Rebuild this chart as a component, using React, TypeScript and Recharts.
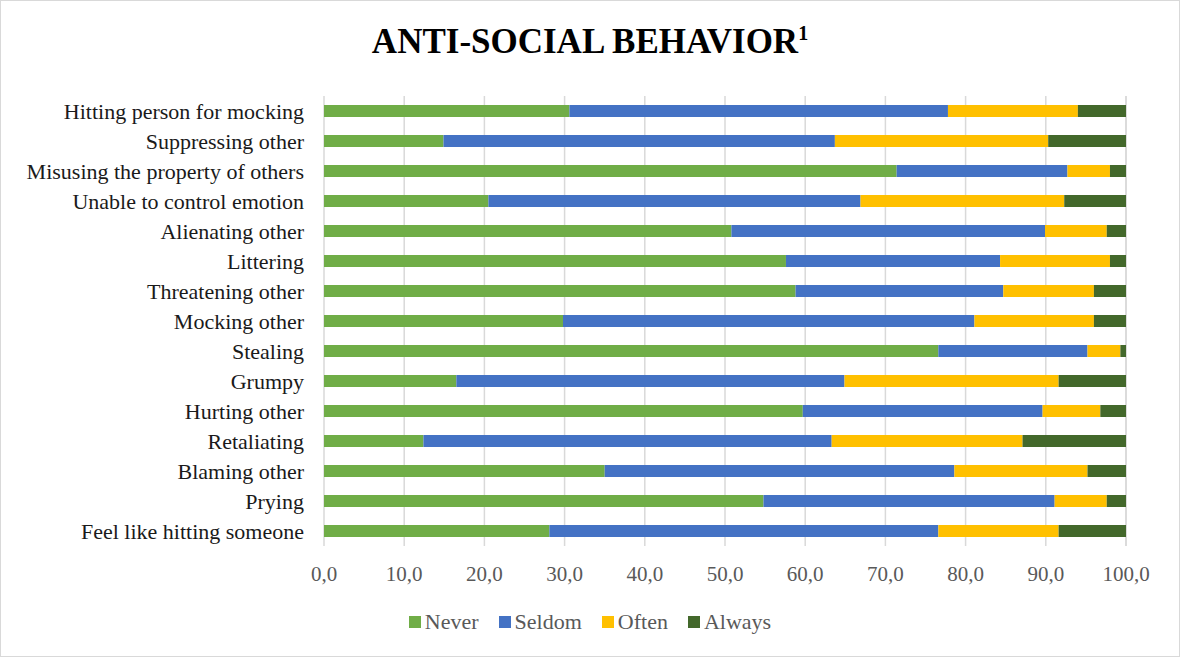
import React from 'react';
import { BarChart, Bar, XAxis, YAxis, CartesianGrid } from 'recharts';

const behaviors = [
  'Hitting person for mocking',
  'Suppressing other',
  'Misusing the property of others',
  'Unable to control emotion',
  'Alienating other',
  'Littering',
  'Threatening other',
  'Mocking other',
  'Stealing',
  'Grumpy',
  'Hurting other',
  'Retaliating',
  'Blaming other',
  'Prying',
  'Feel like hitting someone',
];

const never = [30.6, 14.9, 71.4, 20.5, 50.8, 57.6, 58.8, 29.8, 76.6, 16.5, 59.7, 12.4, 35.0, 54.8, 28.1];
const seldom = [47.2, 48.8, 21.3, 46.4, 39.1, 26.7, 25.9, 51.3, 18.6, 48.4, 29.9, 50.9, 43.6, 36.3, 48.5];
const often = [16.2, 26.6, 5.3, 25.4, 7.7, 13.7, 11.3, 14.9, 4.1, 26.7, 7.2, 23.8, 16.6, 6.5, 15.0];
const always = [6.0, 9.7, 2.0, 7.7, 2.4, 2.0, 4.0, 4.0, 0.7, 8.4, 3.2, 12.9, 4.8, 2.4, 8.4];

const xTicks = [0, 10, 20, 30, 40, 50, 60, 70, 80, 90, 100];

const seriesInfo = [
  { key: 'never', name: 'Never', color: '#70AD47' },
  { key: 'seldom', name: 'Seldom', color: '#4472C4' },
  { key: 'often', name: 'Often', color: '#FFC000' },
  { key: 'always', name: 'Always', color: '#43682B' },
];

const data = behaviors.map((name, i) => ({
  name,
  never: never[i],
  seldom: seldom[i],
  often: often[i],
  always: always[i],
}));

const FONT = '"Liberation Serif", "Times New Roman", serif';

// legend drawn by hand so spacing matches the Excel look
function LegendRow() {
  return (
    <div
      style={{
        position: 'absolute',
        top: 607,
        left: 0,
        width: '100%',
        display: 'flex',
        justifyContent: 'center',
        gap: 20,
        fontFamily: FONT,
        fontSize: 22,
        color: '#595959',
        lineHeight: '28px',
      }}
    >
      {seriesInfo.map((s) => (
        <div key={s.key} style={{ display: 'flex', alignItems: 'center' }}>
          <span style={{ display: 'inline-block', width: 12, height: 12, background: s.color, marginRight: 4 }} />
          <span>{s.name}</span>
        </div>
      ))}
    </div>
  );
}

export default function App() {
  return (
    <div
      style={{
        position: 'absolute',
        left: 0,
        top: 0,
        width: 1180,
        height: 657,
        boxSizing: 'border-box',
        border: '1px solid #D9D9D9',
        background: '#fff',
      }}
    >
      <div
        style={{
          position: 'absolute',
          top: 21,
          left: 0,
          width: '100%',
          textAlign: 'center',
          fontFamily: FONT,
          fontWeight: 'bold',
          fontSize: 35,
          color: '#000',
        }}
      >
        ANTI-SOCIAL BEHAVIOR<sup style={{ fontSize: 20 }}>1</sup>
      </div>
      <BarChart
        width={1178}
        height={655}
        data={data}
        layout="vertical"
        barCategoryGap="30%"
        margin={{ top: 95, right: 53, left: 0, bottom: 0 }}
        style={{ position: 'absolute', left: 0, top: 0 }}
      >
        <CartesianGrid horizontal={false} stroke="#D9D9D9" strokeWidth={1.5} />
        <XAxis
          type="number"
          domain={[0, 100]}
          ticks={xTicks}
          axisLine={false}
          tickLine={false}
          tickMargin={14}
          height={110}
          tick={{ fontSize: 21, fill: '#595959', fontFamily: FONT }}
          tickFormatter={(v) => v.toFixed(1).replace('.', ',')}
        />
        <YAxis
          type="category"
          dataKey="name"
          width={323}
          axisLine={false}
          tickLine={false}
          tickMargin={14}
          interval={0}
          tick={{ fontSize: 22, fill: '#1A1A1A', fontFamily: FONT }}
        />
        {seriesInfo.map((s) => (
          <Bar key={s.key} dataKey={s.key} name={s.name} stackId="a" fill={s.color} isAnimationActive={false} />
        ))}
      </BarChart>
      <LegendRow />
    </div>
  );
}
